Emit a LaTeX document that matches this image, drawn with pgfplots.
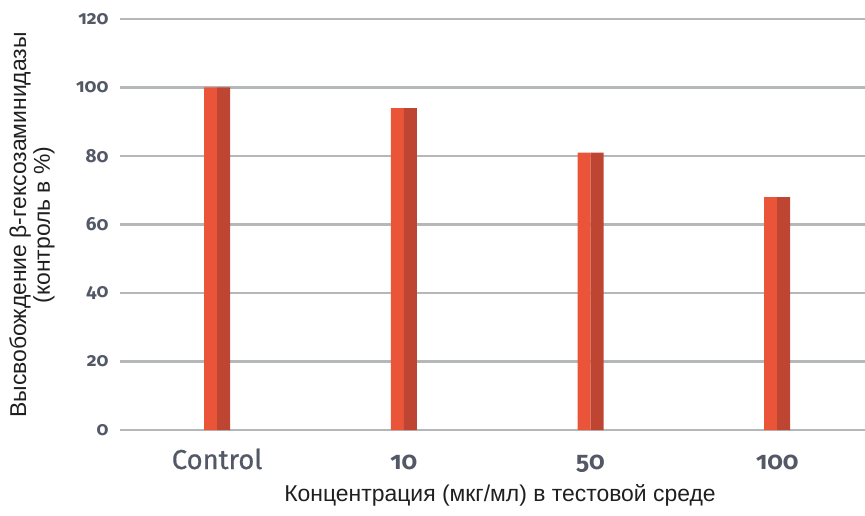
\documentclass[border=0pt]{standalone}
\usepackage{fontspec}
\setmainfont{Liberation Sans}
\newfontfamily\tickfont[Numbers=OldStyle]{Fira Sans}
\newfontfamily\ctrlfont[FakeBold=0.6]{Fira Sans}
\usepackage{pgfplots}
\pgfplotsset{compat=1.18}
\definecolor{barL}{HTML}{EA553A}
\definecolor{barR}{HTML}{BE4531}
\definecolor{gridc}{HTML}{B4B8B8}
\definecolor{tickc}{HTML}{525866}
\begin{document}
\begin{tikzpicture}[x=1bp,y=1bp]
\begin{axis}[
  at={(0,0)}, anchor=south west,
  scale only axis, width=745bp, height=411bp,
  xmin=-0.52, xmax=3.47, ymin=0, ymax=120,
  ytick={0,20,...,120},
  xtick={0,1,2,3},
  xticklabels={{\ctrlfont\mdseries\fontsize{27.5}{30}\selectfont Control},10,50,100},
  axis line style={draw=none},
  ymajorgrids, grid style={gridc, line width=2.5bp},
  major tick length=0pt,
  yticklabel style={font=\tickfont\bfseries\fontsize{19}{21}\selectfont, text=tickc, xshift=-8bp},
  xticklabel style={font=\tickfont\bfseries\fontsize{25}{27}\selectfont, text=tickc, anchor=base, yshift=-39bp},
  /pgf/number format/assume math mode=true,
  clip=false,
]
\addplot[ybar, bar width=13bp, bar shift=-6.5bp, fill=barL, draw=none] coordinates {(0,100) (1,94) (2,81) (3,68)};
\addplot[ybar, bar width=13bp, bar shift=6.5bp, fill=barR, draw=none] coordinates {(0,100) (1,94) (2,81) (3,68)};
\end{axis}
\node[rotate=90, align=center, font=\fontsize{23}{24}\selectfont, text=black!88] at (-88bp,205bp) {Высвобождение β-гексозаминидазы\\(контроль в \%)};
\node[font=\fontsize{23}{24}\selectfont, text=black!88] at (380bp,-65bp) {Концентрация (мкг/мл) в тестовой среде};
\pgfresetboundingbox
\path (-120bp,-86bp) rectangle (745bp,430bp);
\end{tikzpicture}
\end{document}
